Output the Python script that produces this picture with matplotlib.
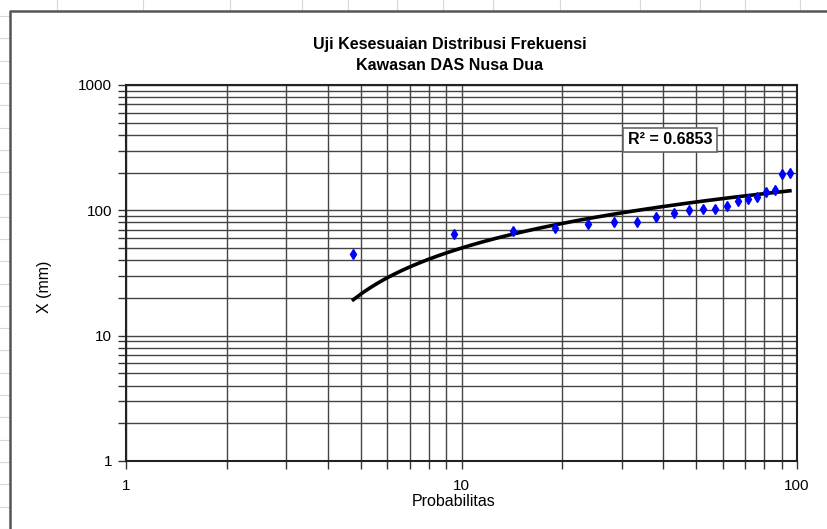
import numpy as np
import matplotlib.pyplot as plt
from matplotlib.lines import Line2D
from matplotlib.ticker import LogLocator, FixedLocator, NullFormatter

# data (Weibull plotting positions, n = 20)
rank = np.arange(1, 21)
prob = rank / 21.0 * 100.0
x_mm = np.array([45, 65, 68, 72, 78, 80, 80, 88, 95, 101,
                 103, 103, 108, 119, 124, 128, 140, 144, 196, 200])
title = "Uji Kesesuaian Distribusi Frekuensi\nKawasan DAS Nusa Dua"
r2_text = "R² = 0.6853"

fam = ['Liberation Sans Narrow', 'Liberation Sans', 'DejaVu Sans']
plt.rcParams['font.family'] = fam

fig = plt.figure(figsize=(8.27, 5.29), dpi=100)
W, H = 827.0, 529.0

# spreadsheet cells behind the chart
for yy in np.arange(16, H, 22.3):
    fig.add_artist(Line2D([0, 9 / W], [1 - yy / H, 1 - yy / H], color='#d8d8d8', lw=0.8))
for xx in [57, 143, 230, 302, 348, 397, 443, 493, 560, 640, 700, 745, 800]:
    fig.add_artist(Line2D([xx / W, xx / W], [1 - 10 / H, 1], color='#d8d8d8', lw=0.8))
# chart frame
fig.add_artist(Line2D([10 / W, 10 / W, 1], [0, 1 - 11 / H, 1 - 11 / H], color='#555555', lw=1.8))

ax = fig.add_axes([126 / W, 1 - 461 / H, (797 - 126) / W, (461 - 85) / H])
ax.set_xscale('log')
ax.set_yscale('log')
ax.set_xlim(1, 100)
ax.set_ylim(1, 1000)

ax.xaxis.set_major_locator(FixedLocator([1, 10, 100]))
ax.yaxis.set_major_locator(FixedLocator([1, 10, 100, 1000]))
ax.xaxis.set_minor_locator(LogLocator(base=10, subs=np.arange(2, 10)))
ax.yaxis.set_minor_locator(LogLocator(base=10, subs=np.arange(2, 10)))
ax.xaxis.set_minor_formatter(NullFormatter())
ax.yaxis.set_minor_formatter(NullFormatter())
ax.set_xticklabels(['1', '10', '100'])
ax.set_yticklabels(['1', '10', '100', '1000'])

ax.grid(True, which='both', color='#444444', lw=1.0)
ax.set_axisbelow(True)
ax.tick_params(which='both', direction='out', length=6, width=1, color='#333333',
               labelsize=11, pad=4)
ax.tick_params(axis='x', pad=7)
for s in ax.spines.values():
    s.set_color('#222222')
    s.set_linewidth(1.5)

# logarithmic trendline, like Excel's
a, b = np.polyfit(np.log(prob), x_mm, 1)
pp = np.linspace(prob.min(), prob.max(), 300)
ax.plot(pp, a * np.log(pp) + b, color='black', lw=2.6, zorder=3)

ax.plot(prob, x_mm, linestyle='none', marker='d', markersize=5.5,
        color='#0000ff', zorder=4)

ax.text(0.811, 0.854, r2_text, transform=ax.transAxes, ha='center', va='center',
        fontsize=11.5, fontweight='bold',
        bbox=dict(boxstyle='square,pad=0.3', fc='white', ec='#666666', lw=1.2), zorder=5)

fig.text(454 / W, 1 - 502 / H, 'Probabilitas', ha='center', va='center', fontsize=11.5)
fig.text(44 / W, 1 - 287 / H, 'X (mm)', rotation=90, ha='center', va='center', fontsize=11.5)
fig.text(450 / W, 1 - 55 / H, title, ha='center', va='center', fontsize=11.5,
         fontweight='bold', linespacing=1.45)

fig.savefig('out.png', dpi=100)
